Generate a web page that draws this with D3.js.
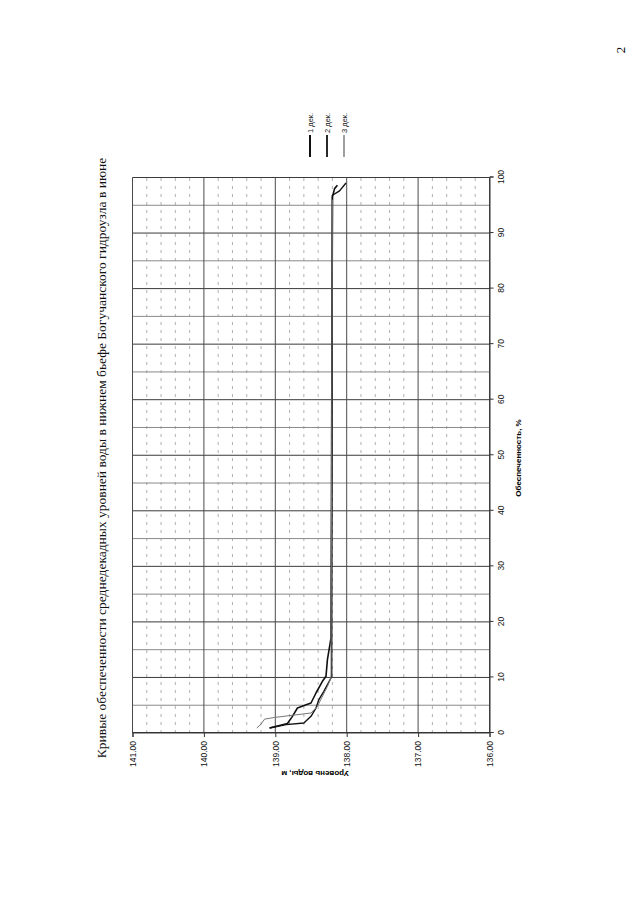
<!DOCTYPE html>
<html><head><meta charset="utf-8">
<script src="https://cdn.jsdelivr.net/npm/d3@7"></script>
<style>html,body{margin:0;padding:0;background:#fff;}</style>
</head><body>
<script>
const title = "Кривые обеспеченности среднедекадных уровней воды в нижнем бьефе Богучанского гидроузла в июне";
const xTitle = "Обеспеченность, %";
const yTitle = "Уровень воды, м";
const pageNumber = "2";
const xTicks = [0,10,20,30,40,50,60,70,80,90,100];
const yTicks = [136,137,138,139,140,141];
const seriesNames = ["1 дек.", "2 дек.", "3 дек."];

// series 1 (1 дек.)
const s1Pct = [0.9, 1.7, 3.0, 4.5, 5.4, 7.2, 9.3, 10.2, 13.2, 17.1, 96.5, 98.0, 98.6];
const s1Lvl = [139.08, 138.83, 138.76, 138.69, 138.50, 138.43, 138.34, 138.29, 138.27, 138.22, 138.20, 138.17, 138.13];
// series 2 (2 дек.)
const s2Pct = [0.9, 1.5, 1.8, 3.0, 4.5, 6.0, 7.5, 9.9, 10.2, 96.8, 97.6, 99.0];
const s2Lvl = [139.08, 138.85, 138.60, 138.50, 138.43, 138.39, 138.32, 138.22, 138.21, 138.20, 138.10, 138.01];
// series 3 (3 дек.)
const s3Pct = [0.9, 1.6, 2.5, 2.8, 3.6, 4.8, 8.4, 9.9, 96.0];
const s3Lvl = [139.26, 139.20, 139.15, 139.01, 138.50, 138.41, 138.27, 138.22, 138.20];

const W = 640, H = 905;
const svg = d3.select("body").append("svg").attr("width", W).attr("height", H)
  .style("font-family", "'Liberation Sans', Arial, sans-serif");
svg.append("rect").attr("width", W).attr("height", H).attr("fill", "#fff");

// page number (rotated like the chart)
svg.append("text").attr("transform", "translate(625,50) rotate(-90)")
  .attr("text-anchor", "middle").style("font-family", "'Liberation Serif', serif")
  .style("font-size", "13px").text(pageNumber);

// landscape group: chart drawn landscape, rotated -90deg onto the portrait page
const g = svg.append("g").attr("transform", `translate(0,${H}) rotate(-90)`);

const x = d3.scaleLinear().domain([0, 100]).range([172, 727.5]);
const y = d3.scaleLinear().domain([136, 141]).range([489.5, 132.5]);

// minor dashed grid (0.2 m)
const minorLv = d3.range(136.2, 141, 0.2).filter(v => Math.abs(v - Math.round(v)) > 0.05);
g.append("g").selectAll("line").data(minorLv).join("line")
  .attr("x1", x(0)).attr("x2", x(100)).attr("y1", d => y(d)).attr("y2", d => y(d))
  .attr("stroke", "#9a9a9a").attr("stroke-width", 0.8).attr("stroke-dasharray", "3,5");

// vertical (landscape) grid every 5 %
const pctGrid = d3.range(0, 101, 5);
g.append("g").selectAll("line").data(pctGrid).join("line")
  .attr("x1", d => x(d)).attr("x2", d => x(d)).attr("y1", y(141)).attr("y2", y(136))
  .attr("stroke", d => d % 10 === 0 ? "#3a3a3a" : "#8a8a8a").attr("stroke-width", 1);

// horizontal major grid every 1 m
g.append("g").selectAll("line").data(yTicks).join("line")
  .attr("x1", x(0)).attr("x2", x(100)).attr("y1", d => y(d)).attr("y2", d => y(d))
  .attr("stroke", "#4a4a4a").attr("stroke-width", 1);

// axes
const xAxis = g.append("g").attr("transform", `translate(0,${y(136)})`)
  .call(d3.axisBottom(x).tickValues(xTicks).tickSize(4).tickPadding(4));
const yAxis = g.append("g").attr("transform", `translate(${x(0)},0)`)
  .call(d3.axisLeft(y).tickValues(yTicks).tickFormat(d3.format(".2f")).tickSize(4).tickPadding(4));
[xAxis, yAxis].forEach(a => {
  a.select(".domain").attr("stroke", "#333");
  a.selectAll(".tick line").attr("stroke", "#333");
  a.selectAll("text").style("font-family", "'Liberation Sans', Arial, sans-serif")
    .style("font-size", "8.5px").attr("fill", "#111");
});

// axis titles
g.append("text").attr("x", 447).attr("y", 521).attr("text-anchor", "middle")
  .style("font-size", "8px").style("font-weight", "bold").text(xTitle);
g.append("text").attr("transform", `translate(134,${315}) rotate(-90)`).attr("text-anchor", "middle")
  .style("font-size", "8px").style("font-weight", "bold").text(yTitle);

// title
g.append("text").attr("x", 447).attr("y", 106).attr("text-anchor", "middle")
  .style("font-family", "'Liberation Serif', 'Times New Roman', serif")
  .style("font-size", "13.5px").attr("fill", "#111").text(title);

// series
const series = [
  {name: seriesNames[0], pts: s1Pct.map((p, i) => ({p, l: s1Lvl[i]})), color: "#111", w: 1.6},
  {name: seriesNames[1], pts: s2Pct.map((p, i) => ({p, l: s2Lvl[i]})), color: "#111", w: 1.4},
  {name: seriesNames[2], pts: s3Pct.map((p, i) => ({p, l: s3Lvl[i]})), color: "#777", w: 1}
];
const line = d3.line().x(d => x(d.p)).y(d => y(d.l));
g.append("g").selectAll("path").data(series).join("path")
  .attr("d", d => line(d.pts)).attr("fill", "none")
  .attr("stroke", d => d.color).attr("stroke-width", d => d.w).attr("stroke-linejoin", "round");

// legend
const leg = g.append("g").selectAll("g").data(series).join("g")
  .attr("transform", (d, i) => `translate(748,${310 + i * 17})`);
leg.append("line").attr("x1", 0).attr("x2", 22).attr("y1", 0).attr("y2", 0)
  .attr("stroke", d => d.color).attr("stroke-width", d => d.w + 0.4);
leg.append("text").attr("x", 24).attr("y", 2.5).style("font-size", "7.5px").attr("fill", "#111").text(d => d.name);
</script>
</body></html>
